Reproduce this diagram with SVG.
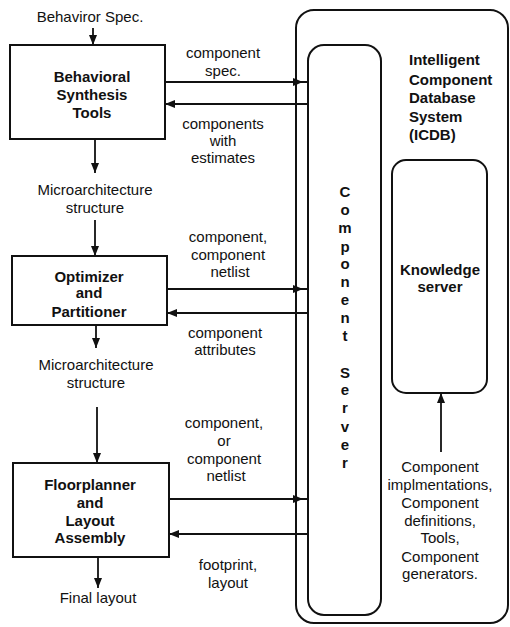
<svg xmlns="http://www.w3.org/2000/svg" width="510" height="627" viewBox="0 0 510 627">
<defs>
<style>
text{font-family:"Liberation Sans",Arial,sans-serif;font-size:15px;fill:#111;text-anchor:middle}
.b{font-weight:bold}
.l{text-anchor:start}
.box{fill:#fff;stroke:#111;stroke-width:2}
.rb{fill:none;stroke:#111;stroke-width:2}
.c{fill:none;stroke:#111;stroke-width:1.8}
</style>
<marker id="ah" markerWidth="10" markerHeight="8" refX="10" refY="4" orient="auto" markerUnits="userSpaceOnUse">
<path d="M0,0 L10,4 L0,8 Z" fill="#111"/>
</marker>
</defs>
<rect width="510" height="627" fill="#fff"/>

<g id="icdb">
<rect class="rb" x="296" y="10" width="212" height="613" rx="18"/>
<text class="b l" x="409" y="65">Intelligent</text>
<text class="b l" x="409" y="85">Component</text>
<text class="b l" x="409" y="103">Database</text>
<text class="b l" x="409" y="122">System</text>
<text class="b l" x="409" y="140">(ICDB)</text>
</g>

<g id="component-server">
<rect class="rb" x="308" y="45" width="73" height="570" rx="16"/>
<text class="b" x="345" y="197">C</text>
<text class="b" x="345" y="215">o</text>
<text class="b" x="345" y="233">m</text>
<text class="b" x="345" y="252">p</text>
<text class="b" x="345" y="269">o</text>
<text class="b" x="345" y="287">n</text>
<text class="b" x="345" y="305">e</text>
<text class="b" x="345" y="323">n</text>
<text class="b" x="345" y="341">t</text>
<text class="b" x="345" y="378">S</text>
<text class="b" x="345" y="395">e</text>
<text class="b" x="345" y="413">r</text>
<text class="b" x="345" y="432">v</text>
<text class="b" x="345" y="450">e</text>
<text class="b" x="345" y="468">r</text>
</g>

<g id="knowledge-server">
<rect class="rb" x="392" y="160" width="95" height="233" rx="14"/>
<text class="b" x="440" y="275">Knowledge</text>
<text class="b" x="440" y="292">server</text>
</g>

<g id="behavioral">
<rect class="box" x="10" y="45" width="155" height="94"/>
<text class="b" x="92" y="82">Behavioral</text>
<text class="b" x="92" y="100">Synthesis</text>
<text class="b" x="92" y="118">Tools</text>
</g>

<g id="optimizer">
<rect class="box" x="12" y="256" width="155" height="69"/>
<text class="b" x="89" y="282">Optimizer</text>
<text class="b" x="89" y="298">and</text>
<text class="b" x="89" y="317">Partitioner</text>
</g>

<g id="floorplanner">
<rect class="box" x="13" y="463" width="156" height="94"/>
<text class="b" x="90" y="490">Floorplanner</text>
<text class="b" x="90" y="508">and</text>
<text class="b" x="90" y="526">Layout</text>
<text class="b" x="90" y="543">Assembly</text>
</g>

<g id="labels">
<text x="90" y="22">Behaviror Spec.</text>
<text x="95" y="195">Microarchitecture</text>
<text x="95" y="213">structure</text>
<text x="96" y="370">Microarchitecture</text>
<text x="96" y="388">structure</text>
<text x="98" y="603">Final layout</text>
<text x="223" y="58">component</text>
<text x="223" y="76">spec.</text>
<text x="223" y="129">components</text>
<text x="223" y="146">with</text>
<text x="223" y="163">estimates</text>
<text x="228" y="242">component,</text>
<text x="228" y="260">component</text>
<text x="230" y="277">netlist</text>
<text x="225" y="338">component</text>
<text x="225" y="355">attributes</text>
<text x="224" y="428">component,</text>
<text x="224" y="446">or</text>
<text x="224" y="464">component</text>
<text x="226" y="481">netlist</text>
<text x="228" y="570">footprint,</text>
<text x="228" y="588">layout</text>
<text x="440" y="472">Component</text>
<text x="440" y="490">implmentations,</text>
<text x="440" y="508">Component</text>
<text x="440" y="526">definitions,</text>
<text x="440" y="543">Tools,</text>
<text x="440" y="562">Component</text>
<text x="440" y="579">generators.</text>
</g>

<g id="connectors">
<line class="c" x1="93" y1="28" x2="93" y2="45" marker-end="url(#ah)"/>
<line class="c" x1="95" y1="139" x2="95" y2="173" marker-end="url(#ah)"/>
<line class="c" x1="95" y1="220" x2="95" y2="256" marker-end="url(#ah)"/>
<line class="c" x1="96" y1="325" x2="96" y2="348" marker-end="url(#ah)"/>
<line class="c" x1="97" y1="407" x2="97" y2="463" marker-end="url(#ah)"/>
<line class="c" x1="98" y1="557" x2="98" y2="588" marker-end="url(#ah)"/>
<line class="c" x1="441" y1="452" x2="441" y2="393" marker-end="url(#ah)"/>

<line class="c" x1="165" y1="82" x2="308" y2="82"/>
<path d="M293,78 L303,82 L293,86 Z" fill="#111"/>
<circle cx="296" cy="82" r="2.5" fill="#111"/>
<line class="c" x1="308" y1="104" x2="165" y2="104" marker-end="url(#ah)"/>

<line class="c" x1="167" y1="289" x2="308" y2="289"/>
<path d="M293,285 L303,289 L293,293 Z" fill="#111"/>
<circle cx="296" cy="289" r="2.5" fill="#111"/>
<line class="c" x1="308" y1="313" x2="167" y2="313" marker-end="url(#ah)"/>

<line class="c" x1="169" y1="499" x2="308" y2="499"/>
<path d="M293,495 L303,499 L293,503 Z" fill="#111"/>
<circle cx="296" cy="499" r="2.5" fill="#111"/>
<line class="c" x1="308" y1="534" x2="169" y2="534" marker-end="url(#ah)"/>
</g>
</svg>
